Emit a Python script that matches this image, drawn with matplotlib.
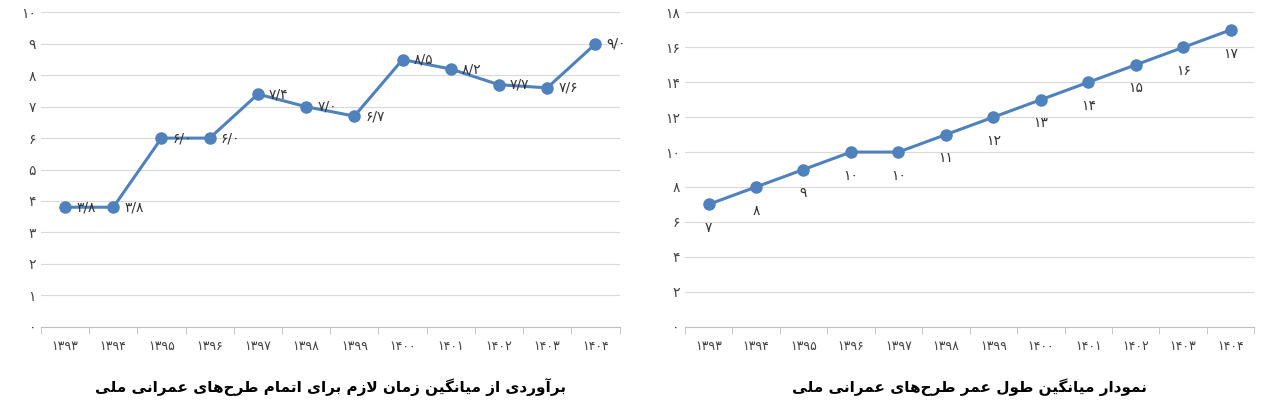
import matplotlib
matplotlib.use("Agg")
import matplotlib.pyplot as plt

years = [1393,1394,1395,1396,1397,1398,1399,1400,1401,1402,1403,1404]
left_vals = [3.8,3.8,6.0,6.0,7.4,7.0,6.7,8.5,8.2,7.7,7.6,9.0]
right_vals = [7,8,9,10,10,11,12,13,14,15,16,17]
left_title = "برآوردی از میانگین زمان لازم برای اتمام طرح‌های عمرانی ملی"
right_title = "نمودار میانگین طول عمر طرح‌های عمرانی ملی"

FORMS = {
 'ا':(0xFE8D,0xFE8E,None,None),'آ':(0xFE81,0xFE82,None,None),
 'ب':(0xFE8F,0xFE90,0xFE91,0xFE92),'پ':(0xFB56,0xFB57,0xFB58,0xFB59),
 'ت':(0xFE95,0xFE96,0xFE97,0xFE98),'ح':(0xFEA1,0xFEA2,0xFEA3,0xFEA4),
 'د':(0xFEA9,0xFEAA,None,None),'ر':(0xFEAD,0xFEAE,None,None),
 'ز':(0xFEAF,0xFEB0,None,None),'ش':(0xFEB5,0xFEB6,0xFEB7,0xFEB8),
 'ط':(0xFEC1,0xFEC2,0xFEC3,0xFEC4),'ع':(0xFEC9,0xFECA,0xFECB,0xFECC),
 'گ':(0xFB92,0xFB93,0xFB94,0xFB95),'ل':(0xFEDD,0xFEDE,0xFEDF,0xFEE0),
 'م':(0xFEE1,0xFEE2,0xFEE3,0xFEE4),'ن':(0xFEE5,0xFEE6,0xFEE7,0xFEE8),
 'ه':(0xFEE9,0xFEEA,0xFEEB,0xFEEC),'و':(0xFEED,0xFEEE,None,None),
 'ی':(0xFBFC,0xFBFD,0xFBFE,0xFBFF),
}
def shape(s):
    out = []
    chars = list(s)
    i = 0
    n = len(chars)
    def joins_left(c):  # can connect to following char
        return c in FORMS and FORMS[c][2] is not None
    while i < n:
        c = chars[i]
        if c not in FORMS:
            out.append(c); i += 1; continue
        prev = chars[i-1] if i > 0 else None
        pj = prev is not None and joins_left(prev)
        nxt = chars[i+1] if i+1 < n else None
        # lam-alef ligature
        if c == 'ل' and nxt in ('ا','آ'):
            if nxt == 'ا':
                out.append(chr(0xFEFC if pj else 0xFEFB))
            else:
                out.append(chr(0xFEF6 if pj else 0xFEF5))
            i += 2; continue
        nj = nxt is not None and nxt in FORMS and joins_left(c)
        iso, fin, ini, med = FORMS[c]
        if pj and nj: g = med
        elif pj: g = fin
        elif nj: g = ini
        else: g = iso
        out.append(chr(g)); i += 1
    return ''.join(c for c in reversed(out) if c != '\u200c')

def fa(x):
    s = str(x)
    return s.translate(str.maketrans('0123456789.', '۰۱۲۳۴۵۶۷۸۹/'))

plt.rcParams['font.family'] = ['DejaVu Sans']
fig = plt.figure(figsize=(12.8, 4.16), dpi=100)
ax1 = fig.add_axes([0.032, 0.215, 0.452, 0.755])
ax2 = fig.add_axes([0.535, 0.215, 0.445, 0.755])
col = '#4F81BD'
x = list(range(len(years)))

def style(ax, ymax, step):
    ax.set_ylim(0, ymax)
    ax.set_xlim(-0.5, len(years)-0.5)
    ticks = list(range(0, ymax+1, step))
    ax.set_yticks(ticks)
    ax.set_yticklabels([fa(t) for t in ticks], fontsize=10, color='#444444')
    ax.set_xticks(x)
    ax.set_xticklabels([fa(y) for y in years], fontsize=9, color='#444444')
    ax.set_xticks([i+0.5 for i in range(-1, len(years))], minor=True)
    ax.tick_params(axis='x', which='major', length=0, pad=10)
    ax.tick_params(axis='x', which='minor', length=5, color='#bfbfbf')
    ax.tick_params(axis='y', length=0)
    ax.grid(axis='y', color='#d9d9d9', linewidth=0.8)
    ax.set_axisbelow(True)
    for sp in ['top','right','left']:
        ax.spines[sp].set_visible(False)
    ax.spines['bottom'].set_color('#bfbfbf')

style(ax1, 10, 1)
ax1.plot(x, left_vals, color=col, lw=2.2, marker='o', ms=8)
for xi, v in zip(x, left_vals):
    ax1.annotate(fa(v), (xi, v), xytext=(8, 0), textcoords='offset points',
                 ha='left', va='center', fontsize=10, color='#333333')
style(ax2, 18, 2)
ax2.plot(x, right_vals, color=col, lw=2.2, marker='o', ms=8)
for xi, v in zip(x, right_vals):
    ax2.annotate(fa(v), (xi, v), xytext=(0, -12), textcoords='offset points',
                 ha='center', va='top', fontsize=10, color='#333333')

fig.text(0.258, 0.07, shape(left_title), ha='center', va='center', fontsize=11, fontweight='bold')
fig.text(0.757, 0.07, shape(right_title), ha='center', va='center', fontsize=11, fontweight='bold')
fig.savefig('out.png', dpi=100)
